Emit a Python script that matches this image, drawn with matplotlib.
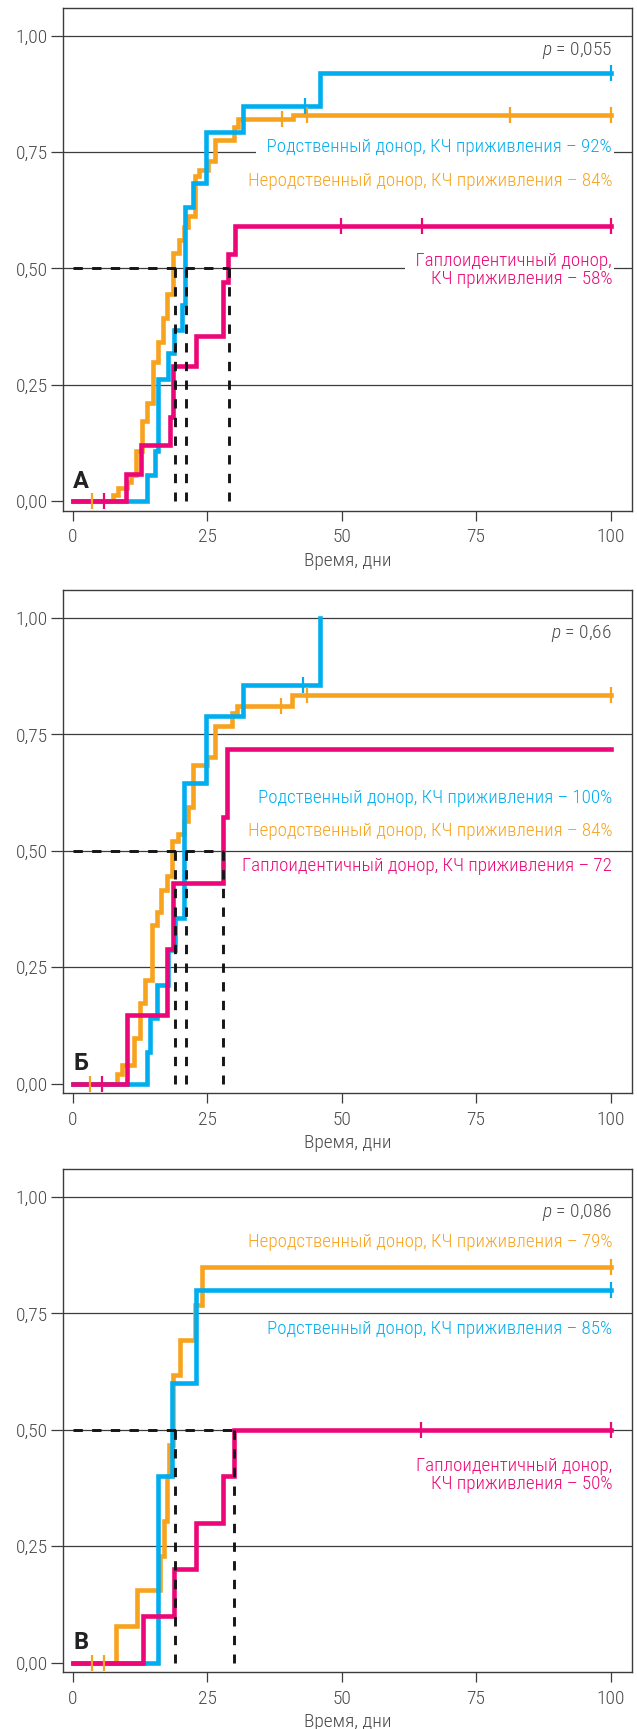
import numpy as np
import matplotlib
matplotlib.use("Agg")
import matplotlib.pyplot as plt
from matplotlib import font_manager

# cumulative incidence of engraftment, days after transplant
A_unrel_t = [0, 7.5, 8.5, 10.0, 10.9, 11.8, 12.8, 13.9, 14.9, 15.9, 16.7, 17.5, 18.6, 19.8, 20.7, 21.5, 22.7, 23.5, 25.2, 26.4, 29.9, 30.8, 41.0, 100]
A_unrel_v = [0, 0.014, 0.028, 0.042, 0.056, 0.107, 0.173, 0.21, 0.30, 0.343, 0.393, 0.445, 0.533, 0.562, 0.59, 0.612, 0.699, 0.712, 0.73, 0.776, 0.805, 0.821, 0.830, 0.830]
A_rel_t = [0, 13.9, 15.3, 15.8, 17.8, 18.8, 20.3, 20.9, 22.4, 24.8, 31.7, 46.0, 100]
A_rel_v = [0, 0.056, 0.107, 0.262, 0.318, 0.367, 0.422, 0.633, 0.683, 0.794, 0.848, 0.92, 0.92]
A_hap_t = [0, 9.9, 12.7, 18.0, 18.7, 23.0, 28.0, 28.9, 30.2, 100]
A_hap_v = [0, 0.058, 0.12, 0.182, 0.291, 0.355, 0.472, 0.531, 0.592, 0.592]
A_unrel_cens = [3.6, 39.0, 43.6, 81.3, 100]
A_rel_cens = [43.2, 100]
A_hap_cens = [5.9, 49.9, 65.0, 100]
A_medians = [19, 21, 29]

B_unrel_t = [0, 8.2, 9.1, 11.4, 12.5, 13.4, 14.7, 15.6, 16.5, 17.5, 18.4, 19.6, 20.7, 21.5, 22.4, 24.9, 26.4, 29.6, 30.5, 40.7, 100]
B_unrel_v = [0, 0.02, 0.04, 0.097, 0.173, 0.222, 0.34, 0.369, 0.416, 0.446, 0.52, 0.536, 0.563, 0.595, 0.684, 0.702, 0.767, 0.797, 0.810, 0.835, 0.835]
B_rel_t = [0, 13.8, 14.4, 15.6, 17.8, 19.0, 20.7, 24.8, 31.7, 46.0]
B_rel_v = [0, 0.068, 0.14, 0.211, 0.287, 0.355, 0.645, 0.790, 0.857, 1.0]
B_hap_t = [0, 10.0, 17.6, 18.6, 27.9, 28.6, 100]
B_hap_v = [0, 0.147, 0.289, 0.431, 0.573, 0.718, 0.718]
B_unrel_cens = [3.3, 38.7, 43.5, 100]
B_rel_cens = [42.8]
B_hap_cens = [5.4]
B_medians = [19, 21, 28]

C_unrel_t = [0, 8.0, 12.0, 16.3, 17.0, 17.5, 17.9, 18.7, 19.9, 22.7, 24.0, 100]
C_unrel_v = [0, 0.079, 0.155, 0.228, 0.303, 0.40, 0.467, 0.617, 0.692, 0.768, 0.85, 0.85]
C_rel_t = [0, 15.9, 18.4, 22.9, 100]
C_rel_v = [0, 0.40, 0.60, 0.80, 0.80]
C_hap_t = [0, 13.0, 18.8, 22.9, 28.0, 30.0, 100]
C_hap_v = [0, 0.10, 0.20, 0.30, 0.40, 0.50, 0.50]
C_unrel_cens = [3.6, 5.8, 100]
C_rel_cens = [100]
C_hap_cens = [64.8, 100]
C_medians = [19, 30]

panel_letters = ["А", "Б", "В"]
p_values = ["0,055", "0,66", "0,086"]
x_ticks = [0, 25, 50, 75, 100]
y_ticks = [0.0, 0.25, 0.5, 0.75, 1.0]
y_ticklabels = ["0,00", "0,25", "0,50", "0,75", "1,00"]

# (text, group, baseline y, white backing over the grid line)
A_labels = [
    ("Родственный донор, КЧ приживления – 92%", "rel", 0.751, True),
    ("Неродственный донор, КЧ приживления – 84%", "unrel", 0.678, False),
    ("Гаплоидентичный донор,", "hap", 0.506, True),
    ("КЧ приживления – 58%", "hap", 0.467, False),
]
B_labels = [
    ("Родственный донор, КЧ приживления – 100%", "rel", 0.602, False),
    ("Неродственный донор, КЧ приживления – 84%", "unrel", 0.532, False),
    ("Гаплоидентичный донор, КЧ приживления – 72", "hap", 0.4565, False),
]
C_labels = [
    ("Неродственный донор, КЧ приживления – 79%", "unrel", 0.893, False),
    ("Родственный донор, КЧ приживления – 85%", "rel", 0.705, False),
    ("Гаплоидентичный донор,", "hap", 0.412, False),
    ("КЧ приживления – 50%", "hap", 0.372, False),
]

COLORS = {"rel": "#00AEEF", "unrel": "#F8A31D", "hap": "#EC0677"}
GRID = "#3c3c3c"
TEXT = "#4a4a4a"

installed = {f.name for f in font_manager.fontManager.ttflist}
if "Roboto Condensed" in installed:
    FAMILY, FS, LFS = "Roboto Condensed", 14.0, 13.7
else:
    FAMILY, FS, LFS = "Roboto", 12.8, 12.4
plt.rcParams["font.family"] = [FAMILY, "DejaVu Sans"]
plt.rcParams["font.weight"] = "light"
plt.rcParams["mathtext.fontset"] = "custom"
plt.rcParams["mathtext.it"] = f"{FAMILY}:italic:light"
plt.rcParams["mathtext.rm"] = f"{FAMILY}:light"


def step_at(t, times, vals):
    i = np.searchsorted(times, t, side="right") - 1
    return np.asarray(vals)[i]


def draw_panel(ax, curves, medians, labels, letter, pval):
    ax.set_xlim(-1.75, 104.0)
    ax.set_ylim(-0.021, 1.06)

    for y in y_ticks[1:]:
        ax.axhline(y, color=GRID, lw=0.9, zorder=1)

    # curves: unrelated, related, haploidentical (last on top)
    for key in ("unrel", "rel", "hap"):
        t, v, cens = curves[key]
        ax.step(t, v, where="post", color=COLORS[key], lw=3.3,
                solid_joinstyle="miter", zorder=3)
    for key in ("unrel", "rel", "hap"):
        t, v, cens = curves[key]
        if cens:
            ax.plot(cens, step_at(np.array(cens), t, v), ls="none", marker="|",
                    ms=12, mew=1.6, color=COLORS[key], zorder=4)

    # median lines at 0.5
    dash = dict(color="#151515", lw=2.1, dashes=(3.2, 3.2), zorder=5)
    ax.plot([0, max(medians)], [0.5, 0.5], **dash)
    for m in medians:
        ax.plot([m, m], [0.5, 0.0], **dash)

    for text, key, y, masked in labels:
        kw = {}
        if masked:
            text = "  " + text
            kw["bbox"] = dict(facecolor="white", edgecolor="none",
                              boxstyle="square,pad=0.1")
        ax.text(100.3, y, text, color=COLORS[key], ha="right", va="baseline",
                fontsize=LFS, zorder=2, **kw)

    ax.text(100.3, 0.958, f"$p$ = {pval}", color=TEXT, ha="right", va="baseline",
            fontsize=FS, zorder=2)
    ax.text(0.1, 0.028, letter, color="#222222", fontsize=17, fontweight="bold",
            family=["Roboto", "DejaVu Sans"], ha="left", va="baseline", zorder=6)

    ax.set_xticks(x_ticks)
    ax.set_xticklabels([str(x) for x in x_ticks])
    ax.set_yticks(y_ticks)
    ax.set_yticklabels(y_ticklabels)
    ax.tick_params(axis="y", length=8.5, width=0.9, color=GRID, labelcolor=TEXT,
                   labelsize=FS, pad=2.5)
    ax.tick_params(axis="x", length=7.5, width=0.9, color=GRID, labelcolor=TEXT,
                   labelsize=FS, pad=5)
    ax.set_xlabel("Время, дни", color=TEXT, fontsize=FS, fontweight="light", labelpad=4)
    for s in ax.spines.values():
        s.set_color(GRID)
        s.set_linewidth(1.0)


fig = plt.figure(figsize=(6.37, 17.29), dpi=100)
left, width, height = 0.0994, 0.8928, 0.29103
bottoms = [0.70445, 0.36767, 0.03279]

panels = [
    ({"unrel": (A_unrel_t, A_unrel_v, A_unrel_cens),
      "rel": (A_rel_t, A_rel_v, A_rel_cens),
      "hap": (A_hap_t, A_hap_v, A_hap_cens)}, A_medians, A_labels),
    ({"unrel": (B_unrel_t, B_unrel_v, B_unrel_cens),
      "rel": (B_rel_t, B_rel_v, B_rel_cens),
      "hap": (B_hap_t, B_hap_v, B_hap_cens)}, B_medians, B_labels),
    ({"unrel": (C_unrel_t, C_unrel_v, C_unrel_cens),
      "rel": (C_rel_t, C_rel_v, C_rel_cens),
      "hap": (C_hap_t, C_hap_v, C_hap_cens)}, C_medians, C_labels),
]

for i, (curves, medians, labels) in enumerate(panels):
    ax = fig.add_axes([left, bottoms[i], width, height])
    draw_panel(ax, curves, medians, labels, panel_letters[i], p_values[i])

fig.savefig("out.png", dpi=100)
plt.close(fig)
